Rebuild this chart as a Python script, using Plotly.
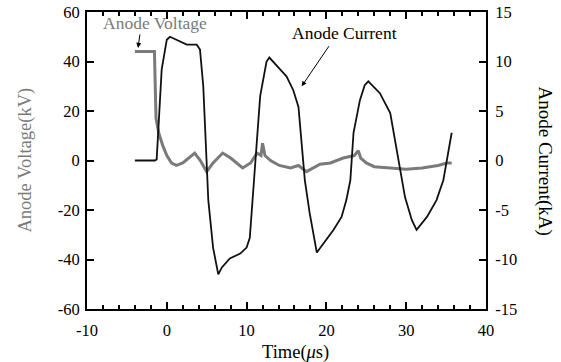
import plotly.graph_objects as go

# Anode voltage (kV), left axis
volt_t = [-4.0, -1.55, -1.35, -1.0, -0.5, 0.0, 0.6, 1.2, 2.0, 3.5, 4.2, 5.0, 5.8, 7.0, 8.0, 9.5,
          10.5, 11.3, 11.8, 12.0, 12.3, 13.0, 14.1, 15.5, 16.5, 17.5, 19.2, 20.5, 22.1, 23.5,
          24.0, 24.3, 25.0, 26.0, 28.0, 30.0, 32.0, 34.0, 35.1, 35.7]
volt_kv = [44, 44, 17, 11, 6, 2, -1, -2, -1, 3, 0, -4.5, -1, 3, 1, -3,
           -1, 3, 2, 7, 2, 0, -2, -3, -2, -4.5, -1.5, -1, 1, 2,
           4, 1, -1, -2.5, -3, -3.5, -3, -2, -1, -1]

# Anode current (kA), right axis
curr_t = [-4.0, -1.5, -1.27, -0.64, 0.0, 0.4, 1.2, 2.5, 3.75, 4.16, 4.57, 5.0, 5.2, 5.8, 6.3,
          6.45, 6.9, 7.9, 9.2, 10.0, 10.4, 10.9, 11.7, 12.5, 12.85, 14.2, 15.0, 15.85, 16.5,
          17.3, 17.9, 18.8, 19.6, 20.9, 21.9, 22.5, 23.0, 23.4, 24.2, 24.8, 25.25, 26.7, 28.0,
          28.6, 29.2, 29.85, 30.7, 31.3, 32.6, 33.8, 34.65, 35.3, 35.7]
curr_ka = [0, 0, 0.1, 9.2, 12.2, 12.5, 12.2, 11.7, 11.7, 11.2, 7.5, 0, -4, -8.8, -11,
           -11.5, -10.8, -9.9, -9.4, -8.8, -7.8, -2, 6.5, 10, 10.4, 9.2, 8.5, 7.1, 5.4,
           -2, -5.3, -9.3, -8.4, -7, -5.7, -4, -2, 2.8, 6.1, 7.6, 8.0, 6.8, 4.8,
           2.1, -0.6, -3.7, -6, -7, -5.7, -4, -2, 1.0, 2.8]

x_ticks = [-10, 0, 10, 20, 30, 40]
x_labels = ["-10", "0", "10", "20", "30", "40"]
y1_ticks = [-60, -40, -20, 0, 20, 40, 60]
y1_labels = ["-60", "-40", "-20", "0", "20", "40", "60"]
y2_ticks = [-15, -10, -5, 0, 5, 10, 15]
y2_labels = ["-15", "-10", "-5", "0", "5", "10", "15"]

FONT = "Liberation Serif"
GRAY = "#7a7a7a"

fig = go.Figure()
fig.add_trace(go.Scatter(x=volt_t, y=volt_kv, mode="lines", line=dict(color=GRAY, width=3),
                         showlegend=False))
fig.add_trace(go.Scatter(x=curr_t, y=curr_ka, mode="lines", yaxis="y2",
                         line=dict(color="#111111", width=1.8), showlegend=False))

axis_common = dict(showgrid=False, zeroline=False, showline=True, linecolor="black",
                   linewidth=2, ticks="inside", tickcolor="black", automargin=False,
                   tickfont=dict(family=FONT, size=16.5, color="black"))

fig.update_layout(
    template="none",
    width=561, height=362,
    margin=dict(l=87, r=75, t=12, b=53),
    paper_bgcolor="white", plot_bgcolor="white",
    xaxis=dict(range=[-10, 40], tickvals=x_ticks, ticktext=x_labels, ticklen=7, tickwidth=1.5,
               mirror="ticks", ticklabelstandoff=5,
               minor=dict(dtick=2, ticks="inside", ticklen=4, tickcolor="black"),
               **axis_common),
    yaxis=dict(range=[-60, 60], tickvals=y1_ticks, ticktext=y1_labels, ticklen=7, tickwidth=1.5,
               ticklabelstandoff=2, **axis_common),
    yaxis2=dict(range=[-15, 15], tickvals=y2_ticks, ticktext=y2_labels, ticklen=7, tickwidth=1.5,
                overlaying="y", side="right", ticklabelstandoff=4, **axis_common),
    annotations=[
        dict(text="Anode Voltage", x=-1.5, y=55.5, xref="x", yref="y", showarrow=False,
             font=dict(family=FONT, size=17.5, color=GRAY)),
        dict(text="", x=-3.6, y=45.5, ax=-3.35, ay=51.5, xref="x", yref="y", axref="x", ayref="y",
             showarrow=True, arrowhead=2, arrowsize=1, arrowwidth=1, arrowcolor="black"),
        dict(text="Anode Current", x=22.3, y=12.9, xref="x", yref="y2", showarrow=False,
             font=dict(family=FONT, size=17.5, color="black")),
        dict(text="", x=16.9, y=7.5, ax=20.45, ay=11.7, xref="x", yref="y2", axref="x", ayref="y2",
             showarrow=True, arrowhead=2, arrowsize=1, arrowwidth=1, arrowcolor="black"),
        dict(text="Anode Current(kA)", x=1, xref="paper", xanchor="center", xshift=59,
             y=0.5, yref="paper", yanchor="middle",
             textangle=90, showarrow=False, font=dict(family=FONT, size=19, color="black")),
        dict(text="Anode Voltage(kV)", x=0, xref="paper", xanchor="center", xshift=-62,
             y=0.5, yref="paper", yanchor="middle",
             textangle=-90, showarrow=False, font=dict(family=FONT, size=18.5, color=GRAY)),
        dict(text="Time(<i>μ</i>s)", x=0.5226, xref="paper", xanchor="center",
             y=0, yref="paper", yanchor="middle", yshift=-43,
             showarrow=False, font=dict(family=FONT, size=18.5, color="black")),
    ],
)

fig.write_html("out.html")
